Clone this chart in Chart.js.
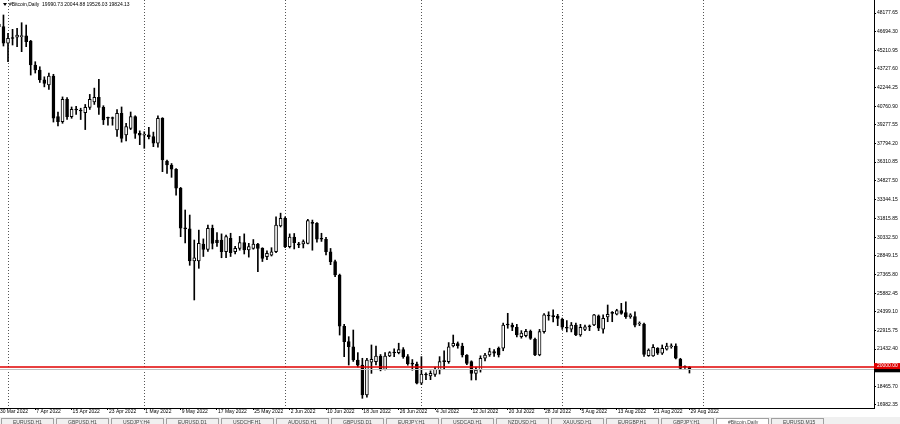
<!DOCTYPE html>
<html>
<head>
<meta charset="utf-8">
<script src="https://cdn.jsdelivr.net/npm/chart.js@4.4.0/dist/chart.umd.min.js"></script>
<style>
  html, body { margin: 0; padding: 0; background: #fff; overflow: hidden; }
  canvas { display: block; }
</style>
</head>
<body>
<canvas id="chart" width="900" height="424"></canvas>
<script>
// daily candles, index -1 is 30 Mar 2022, index 151 is 29 Aug 2022
const firstIndex = -1;
const opens = [
  47300, 47090, 45770, 46200, 46250, 46300, 46370, 45950, 44040, 43640,
  42850, 42450, 43160, 39930, 39530, 41310, 39930, 40500, 40400, 40250,
  40670, 41100, 41470, 40670, 39850, 39800, 38870, 40200, 38470, 39000,
  39930, 38600, 38450, 38480, 38340, 37810, 39800, 36400, 36080, 35740,
  34230, 31050, 31000, 28450, 28450, 29790, 29370, 31045, 30110, 30110,
  29180, 30250, 29180, 29450, 29900, 29320, 29450, 29790, 29450, 28780,
  28900, 29180, 31230, 31830, 29580, 30340, 29800, 29800, 29850, 31500,
  31440, 30200, 30170, 29180, 28390, 27330, 23250, 22020, 21620, 20560,
  20160, 17780, 20400, 20430, 20880, 19820, 20880, 21150, 21150, 21400,
  20830, 20280, 20240, 18710, 19450, 19290, 19420, 19770, 20450, 20430,
  21680, 21880, 21680, 20960, 20430, 19500, 19770, 20700, 20960, 21230,
  21500, 21500, 23400, 23350, 23170, 22420, 22500, 22850, 22200, 20960,
  22820, 24100, 24050, 24060, 23800, 23100, 23010, 23350, 22550, 23000,
  23220, 23350, 24070, 23010, 23990, 24300, 24220, 24490, 24330, 24010,
  24010, 23430, 23430, 20900, 20880, 21500, 21100, 21420, 21620, 21680,
  20640, 19990, 19990.73
];
const highs = [
  47655, 48020, 46560, 46880, 46960, 47405, 47220, 46000, 44300, 43900,
  43100, 43400, 43300, 40300, 41500, 41450, 40700, 40750, 40600, 40900,
  41700, 42200, 42900, 40800, 39900, 39900, 40500, 40700, 39400, 40300,
  40000, 38800, 38730, 39070, 38700, 40000, 39850, 36480, 36200, 35800,
  34300, 32500, 32100, 30110, 30900, 30200, 31300, 31300, 30700, 30600,
  30500, 30650, 29600, 30400, 30600, 29850, 30150, 29850, 29500, 29250,
  29500, 31950, 32250, 31960, 30600, 30630, 29930, 30120, 31760, 31700,
  31500, 30650, 30330, 29440, 28520, 27400, 23400, 22420, 22950, 21150,
  20700, 20700, 21760, 21680, 21000, 21150, 21230, 21450, 21900, 21550,
  21000, 20600, 20400, 20830, 19550, 19700, 20000, 20830, 21300, 21950,
  22550, 22000, 21900, 21000, 20500, 20000, 20900, 21100, 21500, 21400,
  21600, 23500, 24280, 23500, 23400, 22900, 23000, 22950, 22300, 23000,
  24250, 24400, 24550, 24200, 23900, 23700, 23550, 23500, 23400, 23350,
  23350, 24200, 24150, 24150, 24940, 24420, 24600, 25075, 25200, 24250,
  24400, 23600, 23500, 21450, 21800, 21550, 21760, 21900, 21850, 21850,
  20700, 20100, 20044.88
];
const lows = [
  46746, 45550, 44300, 45630, 45500, 45100, 45500, 43240, 43400, 42650,
  42300, 42100, 39500, 39200, 39400, 39700, 39800, 40100, 39700, 38900,
  40500, 40900, 40100, 39300, 39250, 39250, 38350, 37900, 38000, 38900,
  38200, 37700, 37410, 38150, 37540, 37500, 35550, 35420, 35100, 33690,
  30380, 29880, 28100, 25340, 27860, 28800, 29200, 29400, 29600, 28700,
  28700, 28800, 29000, 29300, 29000, 28750, 29380, 27590, 28400, 28550,
  28840, 29100, 31150, 29500, 29480, 29400, 29500, 29480, 29800, 29300,
  29950, 30000, 28920, 28150, 27200, 22550, 20830, 20165, 20450, 20000,
  17515, 17600, 19500, 20170, 19700, 19780, 20830, 20830, 21050, 20700,
  20150, 19750, 18650, 18600, 19000, 19000, 19250, 19450, 19800, 20300,
  21600, 21500, 20800, 20200, 18970, 18970, 19600, 20500, 20850, 20850,
  20800, 21300, 23090, 22900, 22400, 22300, 22400, 22200, 20900, 20900,
  22700, 23730, 23600, 23300, 23000, 22800, 22800, 22500, 22450, 22900,
  22900, 23300, 22900, 22700, 23610, 23610, 24150, 24200, 23880, 23880,
  23200, 23300, 20850, 20850, 20850, 21000, 21000, 21350, 21500, 20650,
  19850, 19900, 19526.03
];
const closes = [
  47090, 45770, 46160, 46150, 46420, 46370, 45890, 44040, 43640, 42850,
  42580, 43160, 39800, 39530, 41310, 39930, 40520, 40460, 40380, 40670,
  41310, 41470, 40670, 39660, 39800, 39780, 40200, 38200, 39130, 39930,
  38600, 38450, 38480, 38340, 37810, 39800, 36480, 36080, 35740, 34230,
  31050, 31000, 28450, 28700, 29850, 29370, 31045, 29850, 29900, 29180,
  30380, 29100, 29450, 29900, 29320, 29580, 29790, 29450, 28650, 29050,
  29180, 31300, 31830, 29580, 30340, 29900, 29720, 29980, 31650, 31440,
  30170, 30170, 29180, 28390, 27330, 23250, 22020, 21620, 20560, 20160,
  17780, 20560, 20620, 20880, 19820, 20880, 21150, 21120, 21400, 20830,
  20280, 20240, 18710, 19450, 19370, 19500, 19820, 20430, 20430, 21620,
  21890, 21700, 20960, 20300, 19500, 19770, 20700, 20960, 21230, 21100,
  20960, 23350, 23350, 23170, 22550, 22700, 22850, 22290, 20960, 22820,
  24150, 24065, 24010, 23880, 23170, 23090, 23350, 22550, 23170, 23200,
  23200, 24150, 23090, 23880, 24200, 24280, 24490, 24280, 24010, 24150,
  23340, 23480, 21000, 21360, 21570, 21100, 21500, 21680, 21640, 20700,
  19900, 19985, 19824.13
];

const tickIndex = [-1, 7, 15, 23, 31, 39, 47, 55, 63, 71, 79, 87, 95, 103, 111, 119, 127, 135, 143, 151];
const tickLabels = ['30 Mar 2022', '7 Apr 2022', '15 Apr 2022', '23 Apr 2022', '1 May 2022', '9 May 2022',
  '17 May 2022', '25 May 2022', '2 Jun 2022', '10 Jun 2022', '18 Jun 2022', '26 Jun 2022', '4 Jul 2022',
  '12 Jul 2022', '20 Jul 2022', '28 Jul 2022', '5 Aug 2022', '13 Aug 2022', '21 Aug 2022', '29 Aug 2022'];
const priceTicks = [48177.65, 46694.30, 45210.95, 43727.60, 42244.25, 40760.90, 39277.55, 37794.20, 36310.85,
  34827.50, 33344.15, 31815.85, 30332.50, 28849.15, 27365.80, 25882.45, 24399.10, 22915.75, 21432.40,
  18465.70, 16982.35];
const monthStarts = [1, 31, 62, 92, 123, 154];
const levelPrice = 20000;
const bidPrice = 19824.13;
const headerText = '#Bitcoin,Daily  19990.73 20044.88 19526.03 19824.13';
const tabNames = ['EURUSD,H1', 'GBPUSD,H1', 'USDJPY,H4', 'EURUSD,D1', 'USDCHF,H1', 'AUDUSD,H1', 'GBPUSD,D1',
  'EURJPY,H1', 'USDCAD,H1', 'NZDUSD,H1', 'XAUUSD,H1', 'EURGBP,H1', 'GBPJPY,H1', '#Bitcoin,Daily', 'EURUSD,M15'];

const FONT = '"Liberation Sans", Arial, sans-serif';

const bodies = opens.map((o, k) => ({ x: k + firstIndex, y: [o, closes[k]] }));
const wicks = lows.map((l, k) => ({ x: k + firstIndex, y: [l, highs[k]] }));
const bodyFill = opens.map((o, k) => (closes[k] >= o ? '#ffffff' : '#000000'));

const extras = {
  id: 'extras',
  beforeDatasetsDraw(chart) {
    const { ctx, chartArea, scales } = chart;
    // dotted month separators
    ctx.save();
    ctx.strokeStyle = '#555';
    ctx.lineWidth = 1;
    ctx.setLineDash([1, 2]);
    monthStarts.forEach(m => {
      const x = Math.round(scales.x.getPixelForValue(m)) + 0.5;
      ctx.beginPath();
      ctx.moveTo(x, chartArea.top);
      ctx.lineTo(x, chartArea.bottom);
      ctx.stroke();
    });
    ctx.restore();
  },
  afterDatasetsDraw(chart) {
    const { ctx, chartArea, scales } = chart;
    ctx.save();
    const yb = Math.round(scales.y.getPixelForValue(bidPrice)) + 0.5;
    ctx.strokeStyle = '#c0c0c0';
    ctx.lineWidth = 1;
    ctx.beginPath();
    ctx.moveTo(chartArea.left, yb);
    ctx.lineTo(chartArea.right, yb);
    ctx.stroke();
    const yl = scales.y.getPixelForValue(levelPrice);
    ctx.strokeStyle = '#e00000';
    ctx.lineWidth = 1.5;
    ctx.beginPath();
    ctx.moveTo(chartArea.left, yl);
    ctx.lineTo(chartArea.right, yl);
    ctx.stroke();
    ctx.restore();
  },
  afterDraw(chart) {
    const { ctx, chartArea, scales } = chart;
    ctx.save();
    ctx.font = '5px ' + FONT;
    // date labels start at their tick, terminal style
    ctx.fillStyle = '#000';
    ctx.textBaseline = 'top';
    ctx.textAlign = 'left';
    tickIndex.forEach((v, k) => {
      ctx.fillText(tickLabels[k], scales.x.getPixelForValue(v) + 1, chartArea.bottom + 1.5);
    });
    // level and bid price tags on the axis
    const yl = scales.y.getPixelForValue(levelPrice);
    const yb = scales.y.getPixelForValue(bidPrice);
    ctx.textBaseline = 'middle';
    ctx.fillStyle = '#000';
    ctx.fillRect(chartArea.right, yb - 2, 26, 5);
    ctx.fillStyle = '#e00000';
    ctx.fillRect(chartArea.right, yl - 4, 26, 6);
    ctx.fillStyle = '#fff';
    ctx.fillText(levelPrice.toFixed(2), chartArea.right + 3, yl - 1);
    // header line
    ctx.fillStyle = '#000';
    ctx.beginPath();
    ctx.moveTo(3, 3);
    ctx.lineTo(7, 3);
    ctx.lineTo(5, 6);
    ctx.closePath();
    ctx.fill();
    ctx.fillText(headerText, 9, 4.5);
    // sheet tabs under the chart
    ctx.fillStyle = '#f0f0f0';
    ctx.fillRect(0, 417, 900, 7);
    ctx.strokeStyle = '#a0a0a0';
    ctx.lineWidth = 1;
    ctx.textBaseline = 'top';
    let x = 1;
    tabNames.forEach(name => {
      const w = 52;
      ctx.fillStyle = name === '#Bitcoin,Daily' ? '#fff' : '#f0f0f0';
      ctx.fillRect(x, 418, w, 6);
      ctx.strokeRect(x + 0.5, 418.5, w, 8);
      ctx.fillStyle = '#444';
      ctx.fillText(name, x + 12, 420);
      x += w + 3;
    });
    ctx.restore();
  }
};

new Chart(document.getElementById('chart'), {
  type: 'bar',
  data: {
    datasets: [
      {
        data: bodies,
        backgroundColor: bodyFill,
        borderColor: '#000',
        borderWidth: 1,
        borderSkipped: false,
        barThickness: 3,
        minBarLength: 1,
        grouped: false,
        order: 1
      },
      {
        data: wicks,
        backgroundColor: '#000',
        borderWidth: 0,
        barThickness: 1,
        grouped: false,
        order: 2
      }
    ]
  },
  options: {
    responsive: false,
    animation: false,
    devicePixelRatio: 1,
    events: [],
    layout: { padding: 0 },
    plugins: { legend: { display: false }, tooltip: { enabled: false } },
    scales: {
      x: {
        type: 'linear',
        offset: false,
        bounds: 'data',
        min: -0.7616,
        max: 191.62,
        afterFit: s => { s.height = 16; s.paddingLeft = 0; s.paddingRight = 0; },
        afterBuildTicks: s => { s.ticks = tickIndex.map(v => ({ value: v })); },
        grid: { offset: false, drawOnChartArea: false, drawTicks: true, tickLength: 2, color: '#000' },
        border: { display: true, color: '#000' },
        ticks: { display: false }
      },
      y: {
        type: 'linear',
        position: 'right',
        bounds: 'data',
        min: 16743.6,
        max: 49212.2,
        afterFit: s => { s.width = 26; s.paddingTop = 0; s.paddingBottom = 0; },
        afterBuildTicks: s => { s.ticks = priceTicks.map(v => ({ value: v })); },
        grid: { drawOnChartArea: false, drawTicks: true, tickLength: 2, color: '#000' },
        border: { display: true, color: '#000' },
        ticks: {
          crossAlign: 'near',
          padding: 1,
          color: '#000',
          font: { family: FONT, size: 5 },
          callback: v => v.toFixed(2)
        }
      }
    }
  },
  plugins: [extras]
});
</script>
</body>
</html>
